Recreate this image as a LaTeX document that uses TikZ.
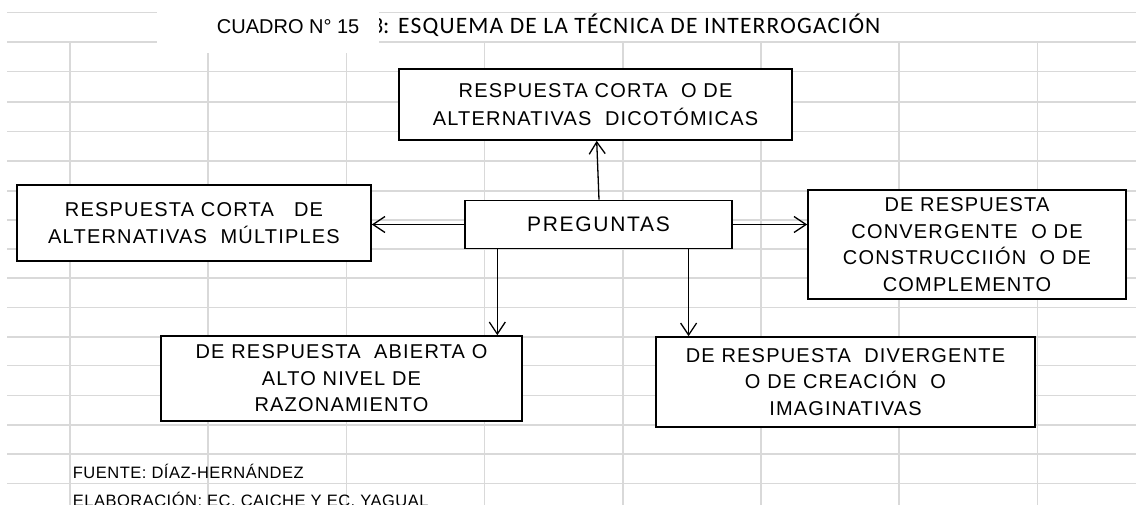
\documentclass[tikz,border=0pt]{standalone}
\usepackage{fontspec}
\setmainfont{Liberation Sans}
\newfontfamily\boxfont[LetterSpace=6]{Liberation Sans}
\newfontfamily\pregfont[LetterSpace=8]{Liberation Sans}
\newfontfamily\footfont[LetterSpace=3]{Liberation Sans}
\newfontfamily\calfont[LetterSpace=5]{Carlito}
\usetikzlibrary{arrows.meta,calc}
\definecolor{gridgray}{RGB}{217,217,217}
\tikzset{
  gridline/.style={draw=gridgray, line width=1.6pt},
  qbox/.style={draw=black, fill=white, line width=1.6pt, align=center, inner sep=0pt,
    font=\boxfont\fontsize{20pt}{26.5pt}\selectfont},
  arr/.style={line width=1.3pt, -{Straight Barb[length=12pt,width=16pt]}},
  plaintext/.style={anchor=base west, inner sep=0pt},
}
\begin{document}
\begin{tikzpicture}[x=1pt,y=-1pt]
\path[use as bounding box] (0,0) rectangle (1136,505);
\clip (0,0) rectangle (1136,505);
% spreadsheet grid
\foreach \yy in {12.7,42.3,71.7,102,131.7,161,191,220,249.3,278.3,307.7,336.7,365.5,395.5,425,454,483.3}
  \draw[gridline] (7,\yy) -- (1136,\yy);
\foreach \xx in {70,208.2,346.4,484.6,622.8,761,899.2,1037.4}
  \draw[gridline] (\xx,42.3) -- (\xx,505);
% title
\node[plaintext, font=\calfont\fontsize{23.5pt}{28pt}\selectfont] (ttl) at (383,34) {\llap{3}: ESQUEMA DE LA TÉCNICA DE INTERROGACIÓN};
\fill[white] (157,0) rectangle (379,53);
\node[plaintext, font=\fontsize{20pt}{24pt}\selectfont] (cuadro) at (216.7,34) {CUADRO N° 15};
% boxes
\node[qbox, minimum width=393pt, minimum height=71pt, font=\boxfont\fontsize{20pt}{28.4pt}\selectfont] (top) at (595.5,104.5)
  {RESPUESTA CORTA\ \ O DE\\ALTERNATIVAS\ \ DICOTÓMICAS};
\node[qbox, minimum width=354pt, minimum height=76pt] (lft) at (194,223)
  {RESPUESTA CORTA\ \ \ DE\\ALTERNATIVAS\ \ MÚLTIPLES};
\node[qbox, minimum width=267pt, minimum height=48pt, font=\pregfont\fontsize{21pt}{26pt}\selectfont] (preg) at (598.5,224.5)
  {PREGUNTAS};
\node[qbox, minimum width=318pt, minimum height=109pt] (rgt) at (967,244.5)
  {DE RESPUESTA\\CONVERGENTE\ \ O DE\\CONSTRUCCIIÓN\ \ O DE\\COMPLEMENTO};
\node[qbox, minimum width=361pt, minimum height=85pt] (bl) at (341.5,378.5)
  {DE RESPUESTA\ \ ABIERTA O\\ALTO NIVEL DE\\RAZONAMIENTO};
\node[qbox, minimum width=379pt, minimum height=90pt] (br) at (845.5,382)
  {DE RESPUESTA\ \ DIVERGENTE\\O DE CREACIÓN\ \ O\\IMAGINATIVAS};
% connectors
\draw[arr] ([xshift=0.5pt]preg.north) -- ([xshift=1.2pt]top.south);
\draw[arr] (preg.west) -- (preg.west -| lft.east);
\draw[arr] (preg.east) -- (preg.east -| rgt.west);
\draw[arr] ([xshift=-101.2pt]preg.south) -- ([xshift=-101.2pt]preg.south |- bl.north);
\draw[arr] ([xshift=90.1pt]preg.south) -- ([xshift=90.1pt]preg.south |- br.north);
% footer
\node[plaintext, font=\footfont\fontsize{16.5pt}{20pt}\selectfont] (fuente) at (72.7,478.3) {FUENTE: DÍAZ-HERNÁNDEZ};
\node[plaintext, font=\footfont\fontsize{16.5pt}{20pt}\selectfont] (elab) at (72.7,506.5) {ELABORACIÓN: EC. CAICHE Y EC. YAGUAL};
\end{tikzpicture}
\end{document}
